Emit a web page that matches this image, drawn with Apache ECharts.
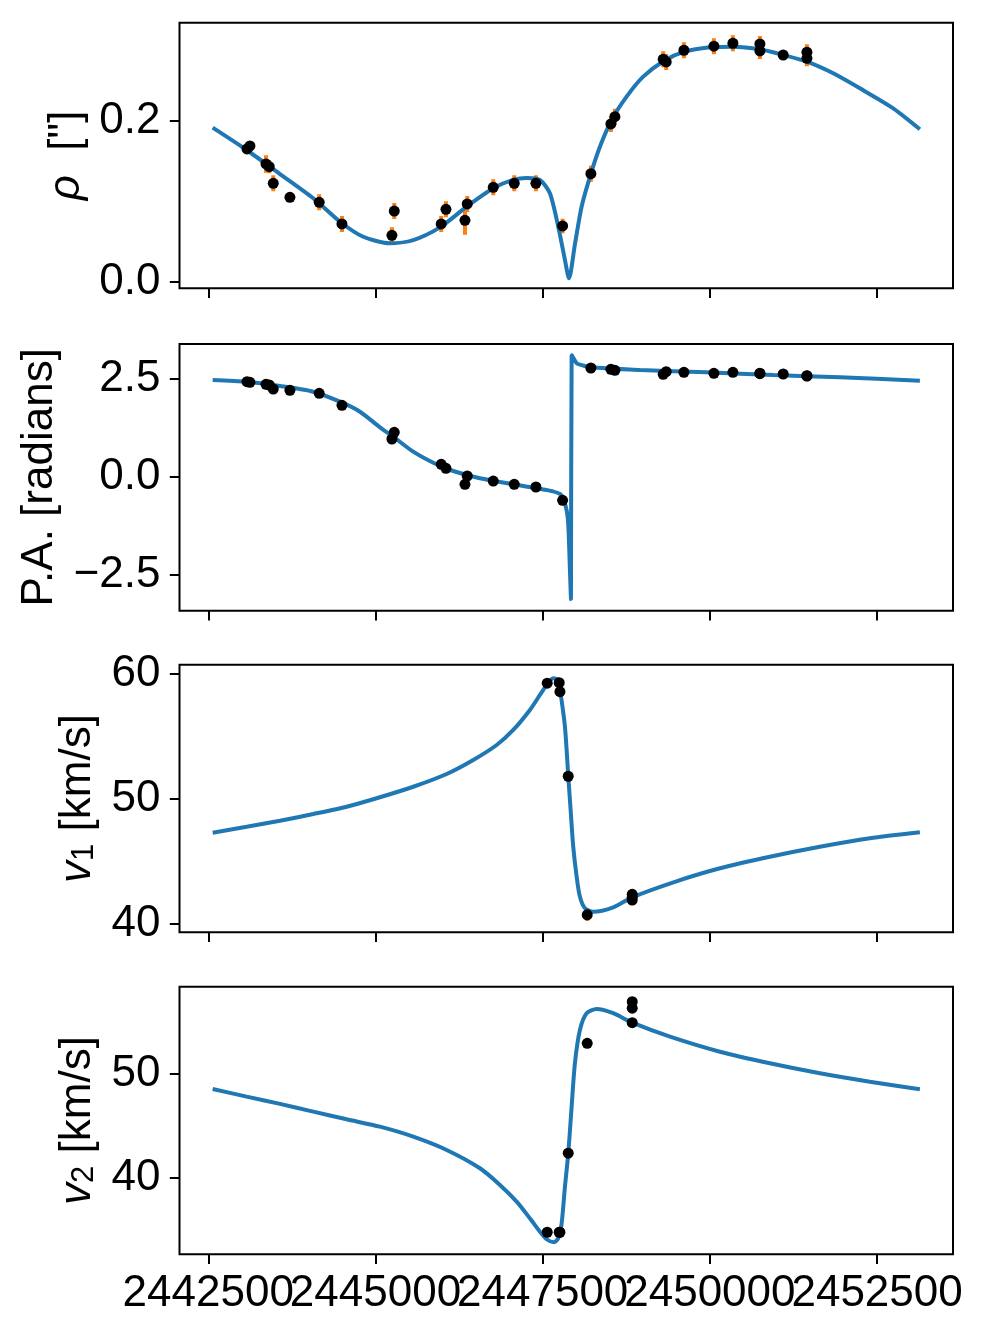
<!DOCTYPE html>
<html>
<head>
<meta charset="utf-8">
<script src="https://cdn.jsdelivr.net/npm/echarts@6/dist/echarts.min.js"></script>
<style>
  html, body { margin: 0; padding: 0; background: #fff; }
  #chart { width: 983px; height: 1335px; }
</style>
</head>
<body>
<div id="chart"></div>
<script>
// astrometric epochs (JD) and observations
var astroT = [2443079, 2443123, 2443363, 2443412, 2443472, 2443721, 2444159, 2444499, 2445246, 2445281,
  2445983, 2446054, 2446338, 2446372, 2446761, 2447075, 2447399, 2447798, 2448221, 2448520,
  2448580, 2449302, 2449347, 2449612, 2450060, 2450344, 2450748, 2450748, 2451096, 2451451, 2451451];
var rhoObs = [0.1653, 0.1690, 0.1466, 0.1432, 0.1225, 0.1051, 0.0989, 0.0719, 0.0578, 0.0880,
  0.0719, 0.0902, 0.0765, 0.0968, 0.1176, 0.1225, 0.1225, 0.0694, 0.1345, 0.1964,
  0.2055, 0.2770, 0.2736, 0.2882, 0.2932, 0.2969, 0.2960, 0.2873, 0.2823, 0.2857, 0.2782];
var rhoErr = [0.005, 0.005, 0.011, 0.008, 0.010, 0.006, 0.010, 0.010, 0.010, 0.010,
  0.010, 0.010, 0.018, 0.010, 0.010, 0.010, 0.010, 0.009, 0.010, 0.010,
  0.010, 0.010, 0.010, 0.010, 0.010, 0.010, 0.010, 0.010, 0.005, 0.010, 0.010];
var paObs = [2.423, 2.408, 2.357, 2.339, 2.237, 2.204, 2.128, 1.821, 0.962, 1.133,
  0.316, 0.214, -0.194, 0.018, -0.110, -0.194, -0.263, -0.602, 2.773, 2.740,
  2.714, 2.612, 2.679, 2.663, 2.638, 2.663, 2.628, 2.640, 2.620, 2.569, 2.575];
var paErr = [0.02, 0.02, 0.02, 0.02, 0.02, 0.02, 0.02, 0.02, 0.02, 0.02,
  0.02, 0.02, 0.02, 0.02, 0.02, 0.02, 0.02, 0.02, 0.02, 0.02,
  0.02, 0.02, 0.02, 0.02, 0.02, 0.02, 0.02, 0.02, 0.02, 0.02, 0.02];

// radial velocity epochs and observations
var rvT = [2447568, 2447747, 2447758, 2447882, 2448166, 2448839, 2448839, 2448839];
var v1Obs = [59.22, 59.26, 58.54, 51.78, 40.70, 42.34, 42.10, 41.88];
var v1Err = [0.3, 0.3, 0.3, 0.3, 0.5, 0.3, 0.3, 0.3];
var v2Obs = [34.78, 34.78, 34.78, 42.38, 52.95, 56.95, 56.32, 54.93];
var v2Err = [0.3, 0.3, 0.3, 0.3, 0.3, 0.3, 0.3, 0.3];

// model curves
var rhoModelT = [2442566, 2443074, 2443572, 2444070, 2444469, 2444817, 2445216, 2445565, 2445964, 2446363,
  2446761, 2447060, 2447260, 2447459, 2447608, 2447733, 2447833, 2447893, 2447983, 2448082,
  2448221, 2448356, 2448531, 2448755, 2449003, 2449317, 2449612, 2450000, 2450349, 2450748,
  2451096, 2451451, 2451844, 2452243, 2452741, 2453140];
var rhoModel = [0.1918, 0.1640, 0.1341, 0.1039, 0.0747, 0.0560, 0.0478, 0.0519, 0.0677, 0.0934,
  0.1163, 0.1267, 0.1291, 0.1267, 0.1101, 0.0685, 0.0270, 0.0042, 0.0470, 0.0934,
  0.1345, 0.1681, 0.2014, 0.2304, 0.2553, 0.2752, 0.2861, 0.2919, 0.2927, 0.2894,
  0.2823, 0.2740, 0.2595, 0.2408, 0.2159, 0.1898];
var paModelT = [2442566, 2443074, 2443572, 2444070, 2444469, 2444768, 2445067, 2445266, 2445565, 2445864,
  2446163, 2446562, 2447060, 2447559, 2447758, 2447833, 2447878, 2447908, 2447923, 2447933,
  2448008, 2448057, 2448207, 2448955, 2449951, 2450947, 2451944, 2453140];
var paModel = [2.467, 2.423, 2.314, 2.168, 1.913, 1.658, 1.260, 1.020, 0.638, 0.357,
  0.145, -0.041, -0.194, -0.339, -0.441, -0.679, -1.10, -2.40, -3.128, 3.105,
  2.893, 2.86, 2.791, 2.722, 2.663, 2.594, 2.536, 2.449];
var v1ModelT = [2442566, 2443074, 2443572, 2444070, 2444569, 2445067, 2445565, 2446064, 2446462, 2446812,
  2447060, 2447309, 2447459, 2447559, 2447658, 2447733, 2447768, 2447833, 2447883, 2447918,
  2447957, 2448008, 2448057, 2448132, 2448256, 2448555, 2448839, 2449477, 2450150, 2450897,
  2451645, 2452392, 2453140];
var v1Model = [47.26, 47.74, 48.22, 48.76, 49.34, 50.10, 50.94, 51.96, 53.08, 54.28,
  55.48, 57.08, 58.28, 59.08, 59.62, 59.48, 58.42, 55.74, 51.78, 49.08,
  46.14, 43.74, 42.14, 41.22, 40.94, 41.30, 42.10, 43.34, 44.42, 45.34,
  46.14, 46.82, 47.30];
var v2ModelT = [2442566, 2443074, 2443572, 2444070, 2444569, 2445067, 2445565, 2446064, 2446562, 2446861,
  2447111, 2447309, 2447459, 2447559, 2447668, 2447733, 2447783, 2447833, 2447883, 2447933,
  2447982, 2448057, 2448157, 2448307, 2448555, 2448839, 2449403, 2450150, 2450897, 2451645,
  2452392, 2453140];
var v2Model = [48.56, 47.82, 47.12, 46.38, 45.64, 44.93, 43.97, 42.69, 40.93, 39.33,
  37.72, 36.12, 34.84, 34.11, 33.82, 34.20, 35.60, 39.16, 42.38, 46.86,
  51.03, 54.23, 55.84, 56.25, 55.84, 54.93, 53.59, 52.14, 51.03, 50.07,
  49.26, 48.53];

// tick values
var xTicks = [2442500, 2445000, 2447500, 2450000, 2452500];
var rhoTicks = [0.0, 0.2];
var paTicks = [-2.5, 0.0, 2.5];
var v1Ticks = [40, 50, 60];
var v2Ticks = [40, 50];

var FONT = 'Liberation Sans';
var BLUE = '#1f77b4', ORANGE = '#ff7f0e';
var X_MIN = 2442070, X_MAX = 2453635;

function zip(a, b, c) {
  return a.map(function (v, i) { return c ? [v, b[i], c[i]] : [v, b[i]]; });
}
function fmt(v) {
  return (v < 0 ? '\u2212' : '') + Math.abs(v).toFixed(1);
}

var grids = [
  { top: 22.7, height: 265.6 },
  { top: 344, height: 266.7 },
  { top: 664.7, height: 267.6 },
  { top: 986.7, height: 267.6 }
].map(function (g) {
  return { left: 179.5, width: 773.5, top: g.top, height: g.height,
    show: true, borderColor: '#000', borderWidth: 2, backgroundColor: 'transparent' };
});

var xAxes = [0, 1, 2, 3].map(function (i) {
  return {
    type: 'value', gridIndex: i, min: X_MIN, max: X_MAX, position: 'bottom',
    axisLine: { show: false, onZero: false }, splitLine: { show: false },
    axisTick: { show: true, length: 9.7, customValues: xTicks, lineStyle: { color: '#000', width: 2 } },
    axisLabel: { show: i === 3, customValues: xTicks.filter(function (v, k) { return k % 2 === 0; }),
      margin: 18, color: '#000', fontFamily: FONT, fontSize: 44, hideOverlap: false,
      formatter: function (v) { return String(v); } }
  };
});
// the bottom labels touch each other, so the odd ones sit on a twin axis
xAxes.push({
  type: 'value', gridIndex: 3, min: X_MIN, max: X_MAX, position: 'bottom', offset: 0,
  axisLine: { show: false, onZero: false }, splitLine: { show: false }, axisTick: { show: false },
  axisLabel: { customValues: xTicks.filter(function (v, k) { return k % 2 === 1; }),
    margin: 18, color: '#000', fontFamily: FONT, fontSize: 44,
    formatter: function (v) { return String(v); } }
});

var nameRich = {
  i: { fontStyle: 'italic', fontFamily: FONT, fontSize: 44, color: '#000' },
  s: { fontFamily: FONT, fontSize: 31, color: '#000', verticalAlign: 'bottom' },
  n: { fontFamily: FONT, fontSize: 44, color: '#000' }
};

function yAxis(i, min, max, ticks, name, gap, formatter) {
  return {
    type: 'value', gridIndex: i, min: min, max: max,
    name: name, nameLocation: 'middle', nameGap: gap, nameRotate: 90,
    nameTextStyle: { fontFamily: FONT, fontSize: 44, color: '#000', rich: nameRich },
    axisLine: { show: false, onZero: false }, splitLine: { show: false },
    axisTick: { show: true, length: 9.7, customValues: ticks, lineStyle: { color: '#000', width: 2 } },
    axisLabel: { customValues: ticks, margin: 19, color: '#000', fontFamily: FONT, fontSize: 44,
      formatter: formatter }
  };
}

var yAxes = [
  yAxis(0, -0.0082, 0.3225, rhoTicks, '{i|ρ}{n|  ["]}', 90, fmt),
  yAxis(1, -3.418, 3.385, paTicks, 'P.A. [radians]', 118, fmt),
  yAxis(2, 39.30, 60.70, v1Ticks, '{i|v}{s|1}{n| [km/s]}', 80, function (v) { return String(v); }),
  yAxis(3, 32.66, 58.39, v2Ticks, '{i|v}{s|2}{n| [km/s]}', 80, function (v) { return String(v); })
];

function errSeries(i, data) {
  return {
    type: 'custom', xAxisIndex: i, yAxisIndex: i, z: 1, clip: true,
    renderItem: function (params, api) {
      var t = api.value(0), y = api.value(1), e = api.value(2);
      var p0 = api.coord([t, y - e]), p1 = api.coord([t, y + e]);
      return { type: 'line', shape: { x1: p0[0], y1: p0[1], x2: p1[0], y2: p1[1] },
        style: { stroke: ORANGE, lineWidth: 4 } };
    },
    data: data
  };
}
function modelSeries(i, data) {
  return { type: 'line', xAxisIndex: i, yAxisIndex: i, z: 2, data: data, showSymbol: false,
    smooth: 0.25, lineStyle: { color: BLUE, width: 4 } };
}
function pointSeries(i, data) {
  return { type: 'scatter', xAxisIndex: i, yAxisIndex: i, z: 3, data: data,
    symbol: 'circle', symbolSize: 11, itemStyle: { color: '#000', opacity: 1 } };
}

var series = [
  errSeries(0, zip(astroT, rhoObs, rhoErr)),
  modelSeries(0, zip(rhoModelT, rhoModel)),
  pointSeries(0, zip(astroT, rhoObs)),
  errSeries(1, zip(astroT, paObs, paErr)),
  modelSeries(1, zip(paModelT, paModel)),
  pointSeries(1, zip(astroT, paObs)),
  errSeries(2, zip(rvT, v1Obs, v1Err)),
  modelSeries(2, zip(v1ModelT, v1Model)),
  pointSeries(2, zip(rvT, v1Obs)),
  errSeries(3, zip(rvT, v2Obs, v2Err)),
  modelSeries(3, zip(v2ModelT, v2Model)),
  pointSeries(3, zip(rvT, v2Obs))
];

var chart = echarts.init(document.getElementById('chart'), null, { renderer: 'canvas' });
chart.setOption({
  animation: false,
  backgroundColor: '#fff',
  grid: grids,
  xAxis: xAxes,
  yAxis: yAxes,
  series: series
});
</script>
</body>
</html>
